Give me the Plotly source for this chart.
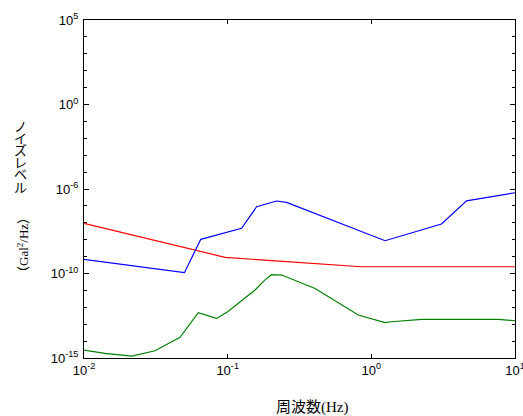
import plotly.graph_objects as go

# ---- data ----
red_f = [0.01, 0.0957, 0.202, 0.362, 0.855, 10]
red_y = [9.3e-8, 9.1e-10, 5.8e-10, 4.0e-10, 2.5e-10, 2.5e-10]

blue_f = [0.01, 0.05, 0.065, 0.125, 0.159, 0.219, 0.257, 1.245, 3.08, 4.6, 10]
blue_y = [6.9e-10, 1.12e-10, 1.05e-8, 4.7e-8, 8.9e-7, 1.95e-6, 1.6e-6, 8.7e-9, 8.5e-8, 2.0e-6, 6.0e-6]

green_f = [0.01, 0.014, 0.0215, 0.0312, 0.0466, 0.0624, 0.0838, 0.1, 0.155, 0.182,
           0.202, 0.238, 0.406, 0.811, 1.245, 1.38, 2.24, 7.64, 10]
green_y = [2.95e-15, 1.9e-15, 1.3e-15, 2.7e-15, 1.66e-14, 4.8e-13, 2.2e-13, 5.5e-13, 1.05e-11, 4.2e-11,
           8.5e-11, 8.1e-11, 1.3e-11, 3.5e-13, 1.23e-13, 1.4e-13, 1.95e-13, 1.95e-13, 1.6e-13]

x_tickvals = [0.01, 0.1, 1, 10]
x_ticktext = ["10<sup>-2</sup>", "10<sup>-1</sup>", "10<sup>0</sup>", "10<sup>1</sup>"]
y_tickvals = [1e-15, 1e-10, 1e-5, 1e0, 1e5]
y_ticktext = ["10<sup>-15</sup>", "10<sup>-10</sup>", "10<sup>-6</sup>", "10<sup>0</sup>", "10<sup>5</sup>"]
y_minor = [10.0 ** k for k in range(-15, 6) if k % 5 != 0]

x_title_cjk = "周波数"
x_title_unit = "(Hz)"
y_title_chars = ["ノ", "イ", "ズ", "レ", "ベ", "ル"]
y_title_unit = "Gal<sup>2</sup>/Hz"

fig = go.Figure()
fig.add_trace(go.Scatter(x=red_f, y=red_y, mode="lines", line=dict(color="#ff0000", width=1.2), showlegend=False))
fig.add_trace(go.Scatter(x=blue_f, y=blue_y, mode="lines", line=dict(color="#0000ff", width=1.2), showlegend=False))
fig.add_trace(go.Scatter(x=green_f, y=green_y, mode="lines", line=dict(color="#008000", width=1.2), showlegend=False))

tick_font = dict(family="Liberation Sans, Arial, sans-serif", size=13, color="#000000")

fig.update_layout(
    width=523, height=416,
    margin=dict(l=84, r=8, t=20, b=58, autoexpand=False),
    paper_bgcolor="white", plot_bgcolor="white",
    xaxis=dict(
        type="log", range=[-2, 1],
        tickmode="array", tickvals=x_tickvals, ticktext=x_ticktext,
        ticks="inside", ticklen=4, tickcolor="black",
        showline=True, linecolor="black", linewidth=1, mirror="allticks",
        showgrid=False, zeroline=False, tickfont=tick_font,
        ticklabeloverflow="allow", automargin=False,
    ),
    yaxis=dict(
        type="log", range=[-15, 5],
        tickmode="array", tickvals=y_tickvals, ticktext=y_ticktext,
        ticks="inside", ticklen=5, tickcolor="black",
        minor=dict(tickmode="array", tickvals=y_minor, ticks="inside", ticklen=3, tickcolor="black"),
        showline=True, linecolor="black", linewidth=1, mirror="allticks",
        showgrid=False, zeroline=False, tickfont=tick_font, ticklabelstandoff=2,
        ticklabeloverflow="allow", automargin=False,
    ),
)

# x-axis title
fig.add_annotation(
    xref="paper", yref="paper", x=0.531, y=(358 - 405.5) / 338, xanchor="center", yanchor="middle",
    text=x_title_cjk + '<span style="font-family:Liberation Serif, serif">' + x_title_unit + "</span>",
    showarrow=False, font=dict(family="Noto Sans CJK JP", size=15, color="#000000"),
)

# y-axis title: upright vertical katakana
char_y_px = [125, 137.5, 149.5, 161.5, 173.5, 186.5]
for ch, py in zip(y_title_chars, char_y_px):
    fig.add_annotation(
        xref="paper", yref="paper", x=(20.5 - 84) / 431, y=(358 - py) / 338,
        xanchor="center", yanchor="middle", text=ch, showarrow=False,
        font=dict(family="Noto Sans CJK JP", size=13, color="#000000"),
    )
# y-axis unit, rotated (reads bottom to top)
fig.add_annotation(
    xref="paper", yref="paper", x=(22 - 84) / 431, y=(358 - 245) / 338,
    xanchor="center", yanchor="middle", textangle=-90, showarrow=False,
    text='（<span style="font-family:Liberation Serif, serif">' + y_title_unit + "</span>）",
    font=dict(family="Noto Sans CJK JP", size=13, color="#000000"),
)

fig.write_html(
    "out.html",
    config={"displayModeBar": False},
    post_script="document.body.style.margin='0';document.body.style.padding='0';",
)
